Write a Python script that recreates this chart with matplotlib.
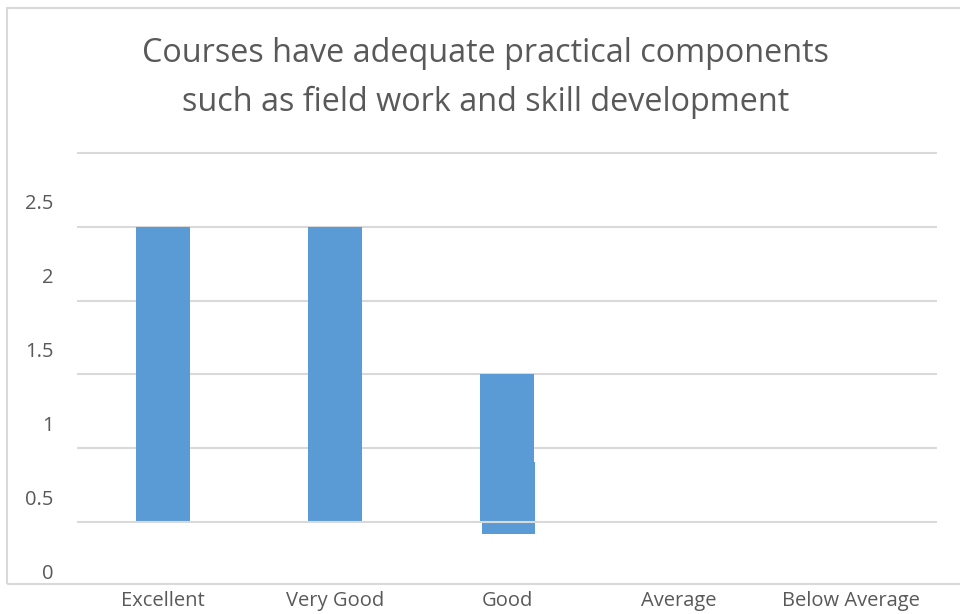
import matplotlib
matplotlib.use("Agg")
import matplotlib.pyplot as plt
import matplotlib.transforms as mtransforms
from matplotlib.patches import Rectangle

# ---- data ----
categories = ["Excellent", "Very Good", "Good", "Average", "Below Average"]
values = [2, 2, 1, 0, 0]
ytick_values = [0, 0.5, 1.0, 1.5, 2.0, 2.5]
ytick_labels = ["0", "0.5", "1", "1.5", "2", "2.5"]
# stray rendering fragment under the "Good" bar (bottom, top)
good_fragment = (-0.08, 0.41)
title = "Courses have adequate practical components\nsuch as field work and skill development"

TEXT = "#595959"
GRID = "#D9D9D9"
BAR = "#5B9BD5"
FONT = ["Open Sans", "DejaVu Sans"]
plt.rcParams["font.family"] = FONT

W, H = 960, 614
fig = plt.figure(figsize=(W / 100, H / 100), dpi=100)

# chart-area frame
fig.patches.append(Rectangle((7 / W, 1 - 584 / H), (962 - 7) / W, (584 - 8) / H,
                             transform=fig.transFigure, fill=False,
                             edgecolor=GRID, linewidth=1.5))

ax_l, ax_r = 77, 937
ax_top, ax_bot = 150, 583
ax = fig.add_axes([ax_l / W, 1 - ax_bot / H, (ax_r - ax_l) / W, (ax_bot - ax_top) / H])
ax.set_xlim(-0.5, len(categories) - 0.5)
ax.set_ylim(-0.412, 2.52)

x = list(range(len(categories)))
ax.bar(x, values, width=0.31, color=BAR, zorder=2)
gi = categories.index("Good")
ax.bar(gi + 0.008, good_fragment[1] - good_fragment[0], bottom=good_fragment[0],
       width=0.31, color=BAR, zorder=0.5)

for v in ytick_values:
    ax.axhline(v, color=GRID, linewidth=1.5, zorder=2.5 if v == 0 else 1)

for s in ax.spines.values():
    s.set_visible(False)

ax.set_yticks(ytick_values)
ax.set_yticklabels(ytick_labels)
ax.set_xticks(x)
ax.set_xticklabels(categories)
ax.tick_params(axis="both", length=0, colors=TEXT, labelsize=14.5)
ax.tick_params(axis="y", pad=17)
ax.tick_params(axis="x", pad=6)

offset = mtransforms.ScaledTranslation(0, -49 / 100, fig.dpi_scale_trans)
for lbl in ax.get_yticklabels():
    lbl.set_transform(lbl.get_transform() + offset)

fig.text(486 / W, 1 - 78 / H, title, ha="center", va="center",
         fontsize=23.3, color=TEXT, linespacing=1.6)

fig.savefig("out.png", dpi=100, facecolor="white")
